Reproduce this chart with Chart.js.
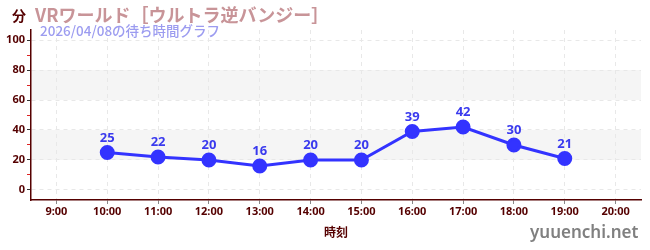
<!DOCTYPE html>
<html><head><meta charset="utf-8">
<script src="https://cdn.jsdelivr.net/npm/chart.js@4"></script>
<style>
html,body{margin:0;padding:0;background:#fff;}
#wrap{position:relative;width:650px;height:250px;}
canvas{position:absolute;left:0;top:0;}
.t{position:absolute;white-space:nowrap;font-family:"Noto Sans CJK JP","Noto Sans",sans-serif;line-height:1;}
</style></head>
<body>
<div id="wrap">
<canvas id="c" width="650" height="250"></canvas>
<div class="t" id="unit" style="left:12px;top:8px;font-size:14px;font-weight:bold;color:#550000;">分</div>
<div class="t" id="title" style="left:35px;top:5px;font-size:18px;font-weight:bold;color:#c89498;">VRワールド［ウルトラ逆バンジー］</div>
<div class="t" id="sub" style="left:40px;top:24px;font-size:13.5px;font-weight:500;color:#9c9cf0;">2026/04/08の待ち時間グラフ</div>
<div class="t" id="wm" style="left:530px;top:223px;font-size:17px;font-weight:600;font-family:'Noto Sans',sans-serif;color:#808080;">yuuenchi.net</div>
</div>
<script>
const categories = ["9:00","10:00","11:00","12:00","13:00","14:00","15:00","16:00","17:00","18:00","19:00","20:00"];
const waitTimes = [null,25,22,20,16,20,20,39,42,30,21,null];
const yTicks = [0,10,20,30,40,50,60,70,80,90,100];
const bands = [[20,40],[60,80]];

const axisColor = '#550000';

const bandPlugin = {
  id:'bands',
  beforeDraw(chart){
    const {ctx, chartArea, scales:{y}} = chart;
    ctx.save();
    ctx.fillStyle = '#f5f5f5';
    bands.forEach(([a,b])=>{
      const y1 = y.getPixelForValue(b), y2 = y.getPixelForValue(a);
      ctx.fillRect(chartArea.left, y1, chartArea.right-chartArea.left, y2-y1);
    });
    ctx.restore();
  }
};

const labelPlugin = {
  id:'vlabels',
  afterDatasetsDraw(chart){
    const {ctx} = chart;
    const meta = chart.getDatasetMeta(0);
    ctx.save();
    ctx.font = 'bold 13px "Noto Sans","Noto Sans CJK JP",sans-serif';
    ctx.fillStyle = '#3a3aee';
    ctx.textAlign = 'center';
    ctx.textBaseline = 'bottom';
    meta.data.forEach((pt,i)=>{
      const v = waitTimes[i];
      if (v === null || v === undefined) return;
      ctx.fillText(String(v), pt.x, pt.y - 8);
    });
    ctx.restore();
  }
};

new Chart(document.getElementById('c'), {
  type:'line',
  data:{
    labels:categories,
    datasets:[{
      data:waitTimes,
      borderColor:'#3333ff',
      backgroundColor:'#3333ff',
      borderWidth:3,
      pointRadius:6,
      pointHoverRadius:6,
      pointBackgroundColor:'#3333ff',
      pointBorderColor:'#3333ff',
      spanGaps:false,
      tension:0
    }]
  },
  options:{
    responsive:false,
    animation:false,
    devicePixelRatio:1,
    layout:{padding:{left:0,right:9,top:30,bottom:0}},
    plugins:{legend:{display:false},tooltip:{enabled:false}},
    scales:{
      x:{
        type:'category',
        offset:true,
        afterFit(s){ s.height = 50; },
        border:{display:true,color:axisColor,width:1.5,dash:[4,4]},
        grid:{display:true,color:'#e8e8e8',tickColor:'#888',tickLength:4,offset:false,lineWidth:1},
        ticks:{color:axisColor,font:{size:11,weight:'bold',family:'"Noto Sans",sans-serif'},padding:1,maxRotation:0,autoSkip:false},
        title:{display:true,text:'時刻',color:axisColor,font:{size:12,weight:'bold',family:'"Noto Sans CJK JP",sans-serif'},padding:{top:4,bottom:10}}
      },
      y:{
        type:'linear',
        min:-6.67,
        max:106.67,
        afterFit(s){ s.width = 31; },
        afterBuildTicks(s){ s.ticks = yTicks.map(v=>({value:v})); },
        border:{display:true,color:axisColor,width:1.5,dash:[4,4]},
        grid:{
          color:(c)=> (c.tick && c.tick.value % 20 === 0) ? '#e8e8e8' : 'rgba(0,0,0,0)',
          tickColor:(c)=> (c.tick && c.tick.value % 20 === 0) ? '#333' : '#dd2222',
          tickLength:4,
          lineWidth:1
        },
        ticks:{
          color:axisColor,
          font:{size:11,weight:'bold',family:'"Noto Sans",sans-serif'},
          padding:2,
          autoSkip:false,
          callback:(v)=> (v % 20 === 0) ? String(v) : ''
        }
      }
    }
  },
  plugins:[bandPlugin,labelPlugin]
});
</script>
</body></html>
